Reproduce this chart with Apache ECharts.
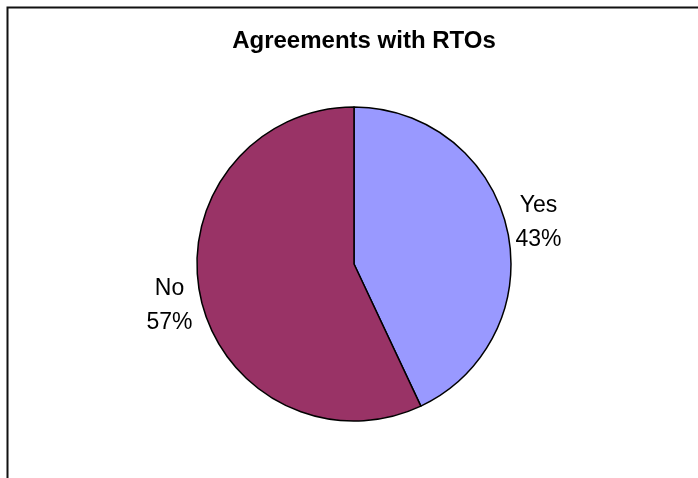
<!DOCTYPE html>
<html>
<head>
<meta charset="utf-8">
<script src="https://cdn.jsdelivr.net/npm/echarts@6/dist/echarts.min.js"></script>
<style>html,body{margin:0;padding:0;background:#fff}#c{width:698px;height:478px}</style>
</head>
<body>
<div id="c"></div>
<script>
const titleText = 'Agreements with RTOs';
const categories = ['Yes', 'No'];
const values = [43, 57];
const colors = ['#9999FF', '#993366'];

const chart = echarts.init(document.getElementById('c'), null, {renderer: 'canvas'});
const data = categories.map((c, i) => ({name: c, value: values[i], itemStyle: {color: colors[i]}}));
const FONT = 'Liberation Sans, Arial, sans-serif';
chart.setOption({
  animation: false,
  backgroundColor: '#ffffff',
  title: {
    text: titleText,
    left: 359, top: 24, textAlign: 'center',
    textStyle: {fontFamily: FONT, fontWeight: 'bold', fontSize: 24, color: '#000'}
  },
  graphic: [{
    type: 'rect', shape: {x: 7.5, y: 7.5, width: 760, height: 560},
    style: {fill: 'none', stroke: '#111', lineWidth: 2}, z: 100, silent: true
  }],
  series: [{
    type: 'pie',
    center: [354, 264],
    radius: 157,
    startAngle: 90,
    clockwise: true,
    data: data,
    label: {show: false},
    labelLine: {show: false},
    itemStyle: {borderColor: '#000', borderWidth: 1.5},
    emphasis: {disabled: true},
    silent: true
  }, {
    type: 'pie',
    center: [354, 264],
    radius: [0, 372],
    startAngle: 90,
    clockwise: true,
    z: 1,
    data: categories.map((c, i) => ({name: c, value: values[i]})),
    itemStyle: {color: 'rgba(0,0,0,0)', borderWidth: 0},
    label: {
      show: true, position: 'inside',
      formatter: p => p.name + '\n' + Math.round(p.percent) + '%',
      fontFamily: FONT, fontSize: 23, lineHeight: 34, color: '#000', align: 'center'
    },
    labelLine: {show: false},
    emphasis: {disabled: true},
    silent: true
  }]
});
</script>
</body>
</html>
